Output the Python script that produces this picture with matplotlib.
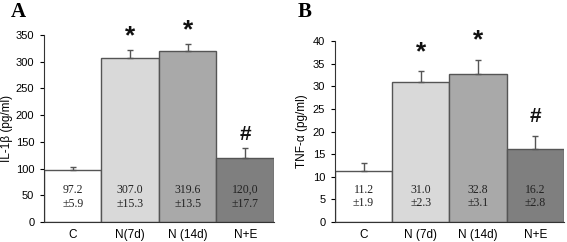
import matplotlib
matplotlib.use("Agg")
import matplotlib.pyplot as plt

groups_a = ["C", "N(7d)", "N (14d)", "N+E"]
groups_b = ["C", "N (7d)", "N (14d)", "N+E"]
il1b = [97.2, 307.0, 319.6, 120.0]
il1b_err = [5.9, 15.3, 13.5, 17.7]
il1b_txt = ["97.2\n±5.9", "307.0\n±15.3", "319.6\n±13.5", "120,0\n±17.7"]
tnfa = [11.2, 31.0, 32.8, 16.2]
tnfa_err = [1.9, 2.3, 3.1, 2.8]
tnfa_txt = ["11.2\n±1.9", "31.0\n±2.3", "32.8\n±3.1", "16.2\n±2.8"]
marks = ["", "*", "*", "#"]
colors = ["#ffffff", "#d9d9d9", "#a9a9a9", "#7f7f7f"]

plt.rcParams['font.family'] = ['Liberation Sans', 'DejaVu Sans']

fig = plt.figure(figsize=(5.67, 2.42), dpi=100)
ax1 = fig.add_axes([0.0776, 0.0826, 0.4056, 0.773])
ax2 = fig.add_axes([0.5908, 0.0826, 0.4039, 0.748])

def panel(ax, labels, vals, errs, txts, ymax, step, ylabel, txt_y, off, lab_x):
    x = list(range(len(vals)))
    ax.bar(x, vals, width=1.0, color=colors, edgecolor="#555555", linewidth=1.0, zorder=2)
    ax.errorbar(x, vals, yerr=[[0]*len(errs), errs], fmt='none', ecolor="#555555",
                elinewidth=1.0, capsize=2.5, capthick=1.0, zorder=3)
    for xi, t in zip(x, txts):
        ax.text(xi, txt_y, t, ha='center', va='center', family='Liberation Serif',
                fontsize=8.5, color="#222222", linespacing=1.15, zorder=4)
    for xi, v, e, m in zip(x, vals, errs, marks):
        if m:
            ax.text(xi, v + e + off, m, ha='center', va='center', fontsize=19 if m == "*" else 15,
                    fontweight='bold', color="#111111")
    ax.set_xlim(-0.5, 3.5)
    ax.set_ylim(0, ymax)
    ax.set_yticks(list(range(0, ymax + 1, step)))
    ax.set_xticks(x)
    ax.set_xticklabels(labels, fontsize=8.5)
    ax.tick_params(axis='x', length=0, pad=5)
    ax.tick_params(axis='y', labelsize=8, length=3, width=0.8, pad=4)
    ax.set_ylabel(ylabel, fontsize=8.5, va='center')
    ax.yaxis.set_label_coords(lab_x, 0.5)
    for s in ['top', 'right']:
        ax.spines[s].set_visible(False)
    ax.spines['left'].set_color('#333333')
    ax.spines['bottom'].set_color('#333333')

panel(ax1, groups_a, il1b, il1b_err, il1b_txt, 350, 50, "IL-1β (pg/ml)", 47, 26, -0.16)
panel(ax2, groups_b, tnfa, tnfa_err, tnfa_txt, 40, 5, "TNF-α (pg/ml)", 5.6, 4.3, -0.144)

fig.text(0.019, 0.93, "A", family='Liberation Serif', fontweight='bold', fontsize=15)
fig.text(0.525, 0.93, "B", family='Liberation Serif', fontweight='bold', fontsize=15)

fig.savefig("out.png", dpi=100)
